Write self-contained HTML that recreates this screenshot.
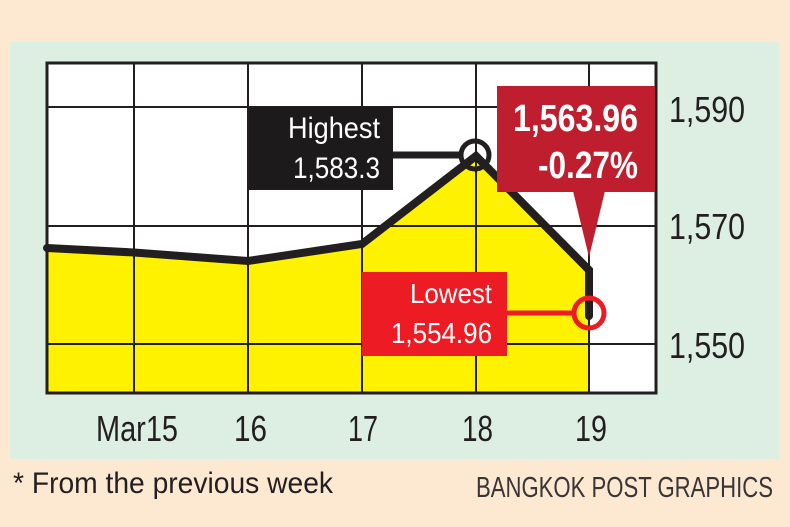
<!DOCTYPE html>
<html><head><meta charset="utf-8"><style>
html,body{margin:0;padding:0;background:#fde8d2;}
svg{display:block;}
text{font-family:"Liberation Sans",sans-serif;}
</style></head><body>
<svg width="790" height="527" viewBox="0 0 790 527" xmlns="http://www.w3.org/2000/svg">
<rect x="0" y="0" width="790" height="527" fill="#fde8d2"/>
<rect x="10" y="42" width="769" height="417" fill="#dcefe2"/>
<rect x="47" y="63" width="609" height="330" fill="#ffffff"/>
<polygon points="47,248 134,252.5 248,261 362,244 476,156 589,270 589,393 47,393" fill="#fff200"/>
<g stroke="#231f20" stroke-width="2">
<line x1="134" y1="63" x2="134" y2="393"/>
<line x1="248" y1="63" x2="248" y2="393"/>
<line x1="362" y1="63" x2="362" y2="393"/>
<line x1="476" y1="63" x2="476" y2="393"/>
<line x1="589" y1="63" x2="589" y2="393"/>
<line x1="47" y1="107" x2="656" y2="107"/>
<line x1="47" y1="226" x2="656" y2="226"/>
<line x1="47" y1="344" x2="656" y2="344"/>
</g>
<polyline points="47,248 134,252.5 248,261 362,244 476,156 589,270 589,316" fill="none" stroke="#231f20" stroke-width="8" stroke-linecap="round" stroke-linejoin="miter"/>
<rect x="47" y="63" width="609" height="330" fill="none" stroke="#231f20" stroke-width="3"/>
<line x1="393" y1="155" x2="462" y2="155" stroke="#231f20" stroke-width="7"/>
<rect x="249" y="107" width="144" height="83" fill="#1d1a1b"/>
<text x="380" y="138" font-size="30" fill="#fff" text-anchor="end" textLength="92" lengthAdjust="spacingAndGlyphs">Highest</text>
<text x="380" y="178" font-size="30" fill="#fff" text-anchor="end" textLength="87" lengthAdjust="spacingAndGlyphs">1,583.3</text>
<circle cx="475" cy="155" r="14" fill="none" stroke="#231f20" stroke-width="5"/>
<rect x="497" y="86" width="158" height="106" fill="#be1e2d"/>
<polygon points="573,191 605,191 589,257" fill="#be1e2d"/>
<text x="638" y="131" font-size="38" font-weight="bold" fill="#fff" text-anchor="end" textLength="125" lengthAdjust="spacingAndGlyphs">1,563.96</text>
<text x="638" y="178" font-size="38" font-weight="bold" fill="#fff" text-anchor="end" textLength="100" lengthAdjust="spacingAndGlyphs">-0.27%</text>
<line x1="507" y1="313" x2="574" y2="313" stroke="#ed1c24" stroke-width="5"/>
<rect x="362" y="272" width="145" height="84" fill="#ed1c24"/>
<text x="492" y="303" font-size="28" fill="#fff" text-anchor="end" textLength="82" lengthAdjust="spacingAndGlyphs">Lowest</text>
<text x="492" y="343" font-size="29" fill="#fff" text-anchor="end" textLength="101" lengthAdjust="spacingAndGlyphs">1,554.96</text>
<circle cx="589" cy="313" r="15" fill="none" stroke="#ed1c24" stroke-width="5"/>
<g fill="#231f20" font-size="36">
<text x="669" y="122" textLength="76" lengthAdjust="spacingAndGlyphs">1,590</text>
<text x="669" y="239" textLength="76" lengthAdjust="spacingAndGlyphs">1,570</text>
<text x="669" y="358" textLength="76" lengthAdjust="spacingAndGlyphs">1,550</text>
<text x="96" y="441" textLength="82" lengthAdjust="spacingAndGlyphs">Mar15</text>
<text x="234" y="441" textLength="33" lengthAdjust="spacingAndGlyphs">16</text>
<text x="348" y="441" textLength="30" lengthAdjust="spacingAndGlyphs">17</text>
<text x="462" y="441" textLength="31" lengthAdjust="spacingAndGlyphs">18</text>
<text x="575" y="441" textLength="32" lengthAdjust="spacingAndGlyphs">19</text>
</g>
<text x="13" y="493" font-size="30" fill="#231f20" textLength="320" lengthAdjust="spacingAndGlyphs">* From the previous week</text>
<text x="476" y="497" font-size="29" fill="#3a3536" textLength="297" lengthAdjust="spacingAndGlyphs">BANGKOK POST GRAPHICS</text>
</svg>
</body></html>
